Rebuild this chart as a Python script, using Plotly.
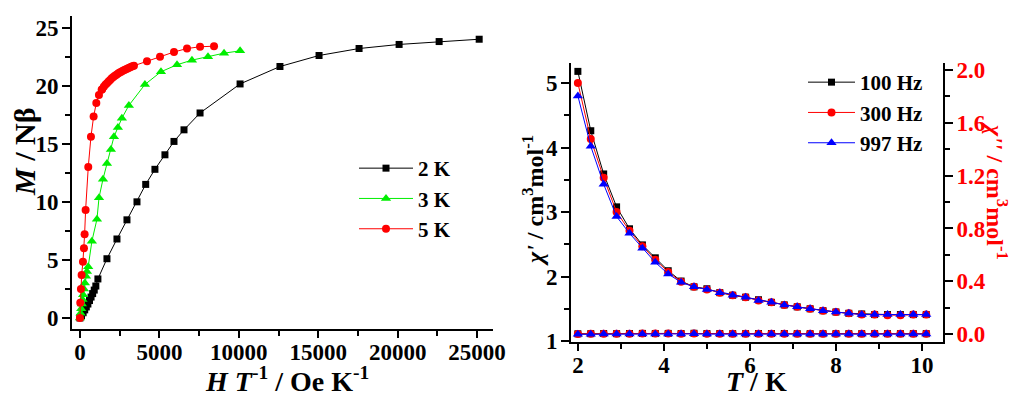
import plotly.graph_objects as go

W, H = 1015, 396

# ---------------- Left panel data (M vs H/T) ----------------
h_2K = [0, 100, 200, 300, 400, 500, 600, 700, 800, 900, 1000, 1130, 1700, 2330, 2960,
        3590, 4140, 4720, 5350, 5920, 6550, 7560, 10080, 12590, 15050, 17570, 20090,
        22610, 25130]
m_2K = [0, 0.2, 0.45, 0.7, 0.95, 1.2, 1.5, 1.8, 2.1, 2.4, 2.75, 3.36, 5.1, 6.8, 8.45,
        10.0, 11.5, 12.8, 14.05, 15.2, 16.2, 17.65, 20.15, 21.65, 22.6, 23.2, 23.55,
        23.8, 24.0]

h_3K = [0, 40, 80, 120, 160, 200, 250, 310, 380, 440, 520, 750, 1070, 1200, 1450, 1700,
        1950, 2140, 2390, 2640, 3080, 4090, 5100, 6110, 7050, 8060, 9070, 10080]
m_3K = [0, 0.4, 0.8, 1.2, 1.6, 2.0, 2.5, 3.0, 3.6, 4.0, 4.4, 6.6, 8.5, 10.35, 11.95, 13.3,
        14.5, 15.6, 16.4, 17.2, 18.3, 20.1, 21.2, 21.8, 22.2, 22.5, 22.8, 23.0]

h_5K = [0, 21, 63, 105, 189, 252, 294, 357, 525, 693, 860, 1030, 1196, 1365, 1400, 1500,
        1600, 1700, 1800, 1900, 2000, 2100, 2200, 2300, 2400, 2500, 2600, 2700, 2800,
        2900, 3000, 3100, 3200, 3300, 3400, 4220, 5040, 5920, 6740, 7560, 8440]
m_5K = [0, 1.3, 2.5, 3.7, 4.85, 6.0, 7.2, 9.3, 13.0, 15.6, 17.35, 18.5, 19.2, 19.65, 19.7,
        19.9, 20.07, 20.22, 20.36, 20.5, 20.63, 20.75, 20.85, 20.95, 21.05, 21.14, 21.21,
        21.28, 21.35, 21.42, 21.48, 21.55, 21.61, 21.67, 21.72, 22.1, 22.5, 22.9, 23.2,
        23.35, 23.4]

# ---------------- Right panel data (ac susceptibility) ----------------
T = [2.0, 2.3, 2.6, 2.9, 3.2, 3.5, 3.8, 4.1, 4.4, 4.7, 5.0, 5.3, 5.6, 5.9, 6.2, 6.5,
     6.8, 7.1, 7.4, 7.7, 8.0, 8.3, 8.6, 8.9, 9.2, 9.5, 9.8, 10.1]
chi1_100 = [5.18, 4.26, 3.59, 3.08, 2.74, 2.49, 2.29, 2.09, 1.93, 1.84, 1.81, 1.75, 1.71,
            1.68, 1.64, 1.60, 1.56, 1.53, 1.50, 1.47, 1.45, 1.43, 1.42, 1.41, 1.41, 1.41,
            1.41, 1.41]
chi1_300 = [5.00, 4.13, 3.53, 3.00, 2.71, 2.47, 2.26, 2.07, 1.92, 1.84, 1.80, 1.75, 1.71,
            1.68, 1.63, 1.60, 1.56, 1.53, 1.50, 1.47, 1.45, 1.43, 1.41, 1.41, 1.40, 1.40,
            1.41, 1.41]
chi1_997 = [4.80, 4.02, 3.43, 2.93, 2.67, 2.44, 2.22, 2.04, 1.91, 1.84, 1.80, 1.75, 1.71,
            1.68, 1.63, 1.60, 1.56, 1.53, 1.50, 1.47, 1.45, 1.43, 1.41, 1.41, 1.41, 1.41,
            1.41, 1.41]
chi2_100 = [0.002, 0.003, 0.004, 0.003, 0.004, 0.005, 0.004, 0.005, 0.004, 0.006, 0.004,
            0.004, 0.003, 0.003, 0.004, 0.004, 0.004, 0.003, 0.003, 0.003, 0.003, 0.003,
            0.003, 0.003, 0.003, 0.003, 0.003, 0.003]
chi2_300 = [0.001, 0.002, 0.003, 0.003, 0.003, 0.004, 0.004, 0.004, 0.003, 0.005, 0.003,
            0.003, 0.003, 0.003, 0.003, 0.003, 0.003, 0.003, 0.003, 0.002, 0.002, 0.002,
            0.002, 0.002, 0.002, 0.002, 0.002, 0.002]
chi2_997 = [-0.002, -0.001, 0.0, 0.0, 0.001, 0.001, 0.001, 0.001, 0.001, 0.002, 0.0,
            0.0, 0.0, 0.0, 0.0, 0.0, 0.0, 0.0, 0.0, 0.0, 0.0, 0.0, 0.0, 0.0, 0.0, 0.0,
            0.0, 0.0]

FONT = "Liberation Serif"
GREEN = "#00ee00"

fig = go.Figure()

def px_x(p):
    return p / W

def px_y(p):
    return 1 - p / H

# Left panel traces
fig.add_trace(go.Scatter(x=h_2K, y=m_2K, name="2 K", mode="lines+markers",
                         line=dict(color="black", width=1),
                         marker=dict(symbol="square", size=7, color="black"),
                         xaxis="x", yaxis="y", legend="legend2"))
fig.add_trace(go.Scatter(x=h_3K, y=m_3K, name="3 K", mode="lines+markers",
                         line=dict(color=GREEN, width=1),
                         marker=dict(symbol="triangle-up", size=9, color=GREEN),
                         xaxis="x", yaxis="y", legend="legend2"))
fig.add_trace(go.Scatter(x=h_5K, y=m_5K, name="5 K", mode="lines+markers",
                         line=dict(color="red", width=1),
                         marker=dict(symbol="circle", size=8, color="red"),
                         xaxis="x", yaxis="y", legend="legend2"))

# Right panel traces
series = [("100 Hz", chi1_100, chi2_100, "black", "square", 7),
          ("300 Hz", chi1_300, chi2_300, "red", "circle", 8),
          ("997 Hz", chi1_997, chi2_997, "blue", "triangle-up", 9)]
for name, c1, c2, col, sym, sz in series:
    fig.add_trace(go.Scatter(x=T, y=c1, name=name, mode="lines+markers",
                             line=dict(color=col, width=1),
                             marker=dict(symbol=sym, size=sz, color=col),
                             xaxis="x2", yaxis="y2", legend="legend"))
for name, c1, c2, col, sym, sz in series:
    fig.add_trace(go.Scatter(x=T, y=c2, name=name, mode="lines+markers",
                             line=dict(color=col, width=1),
                             marker=dict(symbol=sym, size=sz, color=col),
                             xaxis="x2", yaxis="y3", showlegend=False))

TICK_SIZE = 23
tickfont = dict(family=FONT, size=TICK_SIZE, color="black", weight="bold")
common = dict(showgrid=False, zeroline=False, showline=True, linecolor="black",
              linewidth=2, ticks="outside", tickwidth=2, tickcolor="black",
              tickfont=tickfont, automargin=False)

def minor(d):
    return dict(dtick=d, tick0=0, ticks="outside", ticklen=5, tickwidth=2,
                tickcolor="black")

fig.update_layout(
    template="none",
    width=W, height=H,
    margin=dict(l=0, r=0, t=0, b=0, pad=0),
    paper_bgcolor="white", plot_bgcolor="white",
    font=dict(family=FONT, color="black"),
    xaxis=dict(domain=[px_x(72), px_x(493)], range=[-500, 26000], anchor="y",
               tickvals=[0, 5000, 10000, 15000, 20000, 25000], tickformat="d",
               minor=minor(2500), ticklen=7, ticklabelstandoff=-6, **common),
    yaxis=dict(domain=[px_y(329), px_y(16)], range=[-0.95, 26.0], anchor="x",
               tickvals=[0, 5, 10, 15, 20, 25], minor=minor(2.5), ticklen=8,
               ticklabelstandoff=-1, **common),
    xaxis2=dict(domain=[px_x(571), px_x(943)], range=[1.84, 10.49], anchor="y2",
                tickvals=[2, 4, 6, 8, 10], minor=minor(1), ticklen=7,
                ticklabelstandoff=-6, **common),
    yaxis2=dict(domain=[px_y(342), px_y(63)], range=[0.985, 5.31], anchor="x2",
                tickvals=[1, 2, 3, 4, 5], minor=minor(0.5), ticklen=8,
                ticklabelstandoff=-1, **common),
    yaxis3=dict(overlaying="y2", side="right", anchor="x2", range=[-0.06, 2.053],
                tickvals=[0.0, 0.4, 0.8, 1.2, 1.6, 2.0], tickformat=".1f",
                minor=minor(0.2), ticklen=8, ticklabelstandoff=-1,
                **{**common, "tickfont": dict(family=FONT, size=TICK_SIZE, color="red",
                                              weight="bold")}),
    legend=dict(x=px_x(803), y=px_y(62), xanchor="left", yanchor="top",
                bgcolor="rgba(0,0,0,0)", itemwidth=47,
                font=dict(family=FONT, size=21, color="black", weight="bold")),
    legend2=dict(x=px_x(354), y=px_y(148), xanchor="left", yanchor="top",
                 bgcolor="rgba(0,0,0,0)", itemwidth=54,
                 font=dict(family=FONT, size=21, color="black", weight="bold")),
)

def ann(text, x, y, angle=0, size=30, color="black"):
    fig.add_annotation(text=text, x=px_x(x), y=px_y(y), xref="paper", yref="paper",
                       xanchor="center", yanchor="middle", showarrow=False,
                       textangle=angle, font=dict(family=FONT, size=size, color=color))

ann("<b><i>M</i> / Nβ</b>", 24, 152, -90, 30)
ann("<b><i>H T</i><sup>-1</sup> / Oe K<sup>-1</sup></b>", 287, 379, 0, 28)
ann("<b><i>χ'</i> / cm<sup>3</sup>mol<sup>-1</sup></b>", 533, 201, -90, 24)
ann("<b><i>T</i> / K</b>", 756, 381, 0, 28)
ann("<b><i>χ''</i> / cm<sup>3</sup>mol<sup>-1</sup></b>", 997, 191, 90, 24, "red")

fig.write_html("out.html")
